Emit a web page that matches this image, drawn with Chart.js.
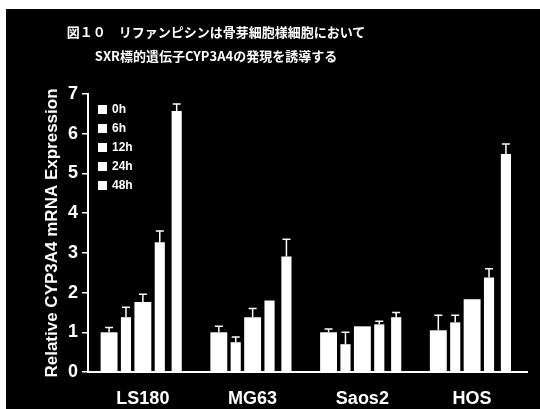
<!DOCTYPE html>
<html lang="ja">
<head>
  <meta charset="UTF-8" />
  <title>CYP3A4 expression</title>
  <script src="https://cdn.jsdelivr.net/npm/chart.js"></script>
  <style>
    body {
      margin: 0;
      width: 540px;
      height: 409px;
      overflow: hidden;
      background: #fff;
      font-family: 'Liberation Sans', Arial, sans-serif;
    }
    #box {
      position: absolute;
      left: 6px;
      top: 9px;
      width: 534px;
      height: 400px;
      background: #000;
    }
    #title {
      position: absolute;
      left: 6px;
      top: 20px;
      width: 420px;
      text-align: center;
      color: #fff;
      font-family: 'Noto Sans CJK JP', sans-serif;
      font-weight: bold;
      font-size: 13px;
      line-height: 24px;
    }
    #legend {
      position: absolute;
      left: 98px;
      top: 100px;
      color: #fff;
      font-weight: bold;
      font-size: 12px;
    }
    #legend div {
      height: 19px;
      line-height: 19px;
      display: flex;
      align-items: center;
    }
    #legend span.sw {
      display: inline-block;
      width: 9px;
      height: 9px;
      background: #fff;
      margin-right: 5px;
    }
  </style>
</head>
<body>
  <div id="box"><canvas id="chart" width="534" height="400"></canvas></div>
  <div id="title"></div>
  <div id="legend"></div>

  <script>
    const titleLines = ['図１０　リファンピシンは骨芽細胞様細胞において', 'SXR標的遺伝子CYP3A4の発現を誘導する'];
    const yTitle = 'Relative CYP3A4 mRNA Expression';
    const cells = ['LS180', 'MG63', 'Saos2', 'HOS'];
    const times = ['0h', '6h', '12h', '24h', '48h'];

    // mean expression per time point
    const h0  = [1.00, 1.00, 1.00, 1.05];
    const h6  = [1.38, 0.75, 0.70, 1.25];
    const h12 = [1.76, 1.38, 1.15, 1.83];
    const h24 = [3.27, 1.80, 1.20, 2.38];
    const h48 = [6.57, 2.91, 1.38, 5.49];

    // upper error (SD)
    const e0  = [0.12, 0.15, 0.08, 0.38];
    const e6  = [0.25, 0.13, 0.30, 0.18];
    const e12 = [0.20, 0.22, 0, 0];
    const e24 = [0.28, 0, 0.08, 0.22];
    const e48 = [0.18, 0.43, 0.12, 0.25];

    const series = [h0, h6, h12, h24, h48];
    const errors = [e0, e6, e12, e24, e48];
    const widths = [1.0, 0.6, 1.0, 0.6, 0.6];

    document.getElementById('title').innerHTML = titleLines.join('<br>');
    document.getElementById('legend').innerHTML = times
      .map(t => `<div><span class="sw"></span>${t}</div>`).join('');

    const errorBars = {
      id: 'errorBars',
      afterDatasetsDraw(chart) {
        const ctx = chart.ctx;
        const y = chart.scales.y;
        ctx.save();
        ctx.strokeStyle = '#fff';
        ctx.lineWidth = 1.5;
        chart.data.datasets.forEach((ds, i) => {
          chart.getDatasetMeta(i).data.forEach((bar, j) => {
            const err = errors[i][j];
            if (!err) return;
            const top = y.getPixelForValue(ds.data[j] + err);
            ctx.beginPath();
            ctx.moveTo(bar.x, bar.y);
            ctx.lineTo(bar.x, top);
            ctx.moveTo(bar.x - 4, top);
            ctx.lineTo(bar.x + 4, top);
            ctx.stroke();
          });
        });
        ctx.restore();
      }
    };

    new Chart(document.getElementById('chart'), {
      type: 'bar',
      data: {
        labels: cells,
        datasets: series.map((d, i) => ({
          label: times[i],
          data: d,
          backgroundColor: '#fff',
          borderWidth: 0,
          barPercentage: widths[i],
          categoryPercentage: 0.77
        }))
      },
      options: {
        responsive: false,
        animation: false,
        layout: { padding: { top: 85, right: 13, bottom: 0, left: 30 } },
        plugins: {
          legend: { display: false },
          tooltip: { enabled: false }
        },
        scales: {
          x: {
            grid: { display: false },
            border: { display: true, color: '#fff', width: 2 },
            ticks: { color: '#fff', padding: 8, font: { family: 'Liberation Sans', size: 18, weight: 'bold' } },
            afterFit(s) { s.height = 37; }
          },
          y: {
            min: 0,
            max: 7,
            ticks: { stepSize: 1, color: '#fff', padding: 4, font: { family: 'Liberation Sans', size: 18, weight: 'bold' } },
            grid: { drawOnChartArea: false, drawTicks: true, tickLength: 6, color: '#fff', lineWidth: 1.5 },
            border: { display: true, color: '#fff', width: 2 },
            title: {
              display: true,
              text: yTitle,
              color: '#fff',
              padding: { top: 6, bottom: 0 },
              font: { family: 'Liberation Sans', size: 17, weight: 'bold' }
            },
            afterFit(s) { s.width = 52; }
          }
        }
      },
      plugins: [errorBars]
    });
  </script>
</body>
</html>
